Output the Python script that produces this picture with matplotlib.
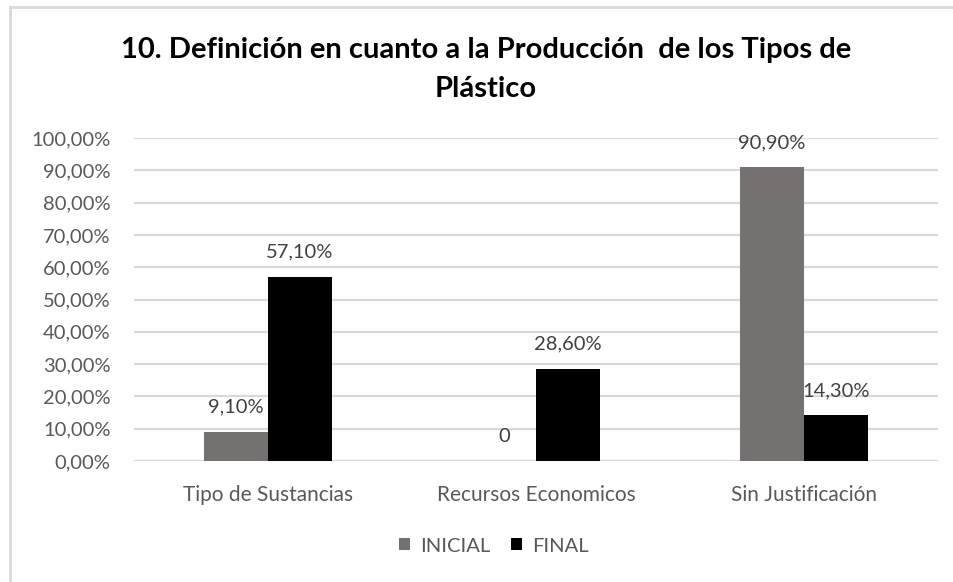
import matplotlib.pyplot as plt
import numpy as np
from matplotlib.lines import Line2D

# ---- Data ----
categories = ["Tipo de Sustancias", "Recursos Economicos", "Sin Justificación"]
inicial = [0.091, 0.0, 0.909]
final = [0.571, 0.286, 0.143]
inicial_labels = ["9,10%", "0", "90,90%"]
final_labels = ["57,10%", "28,60%", "14,30%"]
yticks = np.arange(0, 1.01, 0.1)
ytick_labels = [f"{v * 100:.2f}%".replace(".", ",") for v in yticks]

plt.rcParams["font.family"] = ["Lato", "DejaVu Sans"]

TEXT = "#595959"
GRID = "#d9d9d9"
C_INI = "#767171"
C_FIN = "#000000"

fig = plt.figure(figsize=(9.54, 5.82), dpi=100)
ax = fig.add_axes([134 / 954, 1 - 461 / 582, (938 - 134) / 954, (461 - 138) / 582])

# chart frame (left and top edges only fall inside the image)
fig.add_artist(Line2D([10 / 954, 10 / 954], [0, 1 - 7 / 582], transform=fig.transFigure,
                      color=GRID, lw=2))
fig.add_artist(Line2D([10 / 954, 1], [1 - 7 / 582, 1 - 7 / 582], transform=fig.transFigure,
                      color=GRID, lw=2))

x = np.arange(len(categories))
w = 0.239
b1 = ax.bar(x - w / 2, inicial, w, color=C_INI, label="INICIAL", zorder=3)
b2 = ax.bar(x + w / 2, final, w, color=C_FIN, label="FINAL", zorder=3)

for bars, labels in ((b1, inicial_labels), (b2, final_labels)):
    for bar, lab in zip(bars, labels):
        ax.annotate(lab, (bar.get_x() + bar.get_width() / 2, bar.get_height()),
                    xytext=(0, 17.5), textcoords="offset points", ha="center",
                    va="center", fontsize=14.5, color="#404040", zorder=4)

ax.set_xlim(-0.5, 2.5)
ax.set_ylim(0, 1.0)
ax.set_yticks(yticks)
ax.set_yticklabels(ytick_labels)
ax.set_xticks(x)
ax.set_xticklabels(categories)
ax.tick_params(axis="y", length=0, pad=17, labelsize=14.5, labelcolor=TEXT)
ax.tick_params(axis="x", length=0, pad=17, labelsize=15, labelcolor=TEXT)
ax.grid(axis="y", color=GRID, lw=1.6, zorder=0)
for s in ax.spines.values():
    s.set_visible(False)

fig.suptitle("10. Definición en cuanto a la Producción  de los Tipos de\nPlástico",
             x=486 / 954, y=1 - 37 / 582, va="top", fontsize=21, fontweight="bold",
             color="#000000", linespacing=1.62)

fig.legend(handles=[b1, b2], labels=["INICIAL", "FINAL"], loc="center",
           bbox_to_anchor=(494 / 954, 1 - 546 / 582), ncol=2, frameon=False,
           fontsize=14.5, labelcolor=TEXT, handlelength=0.55, handleheight=0.55,
           handletextpad=0.5, columnspacing=1.0)

fig.savefig("out.png", dpi=100, facecolor="white")
